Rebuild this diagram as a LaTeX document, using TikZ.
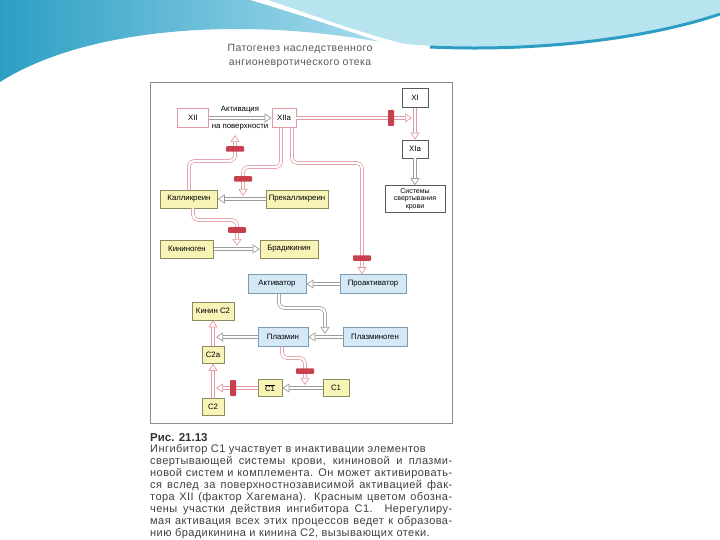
\documentclass[tikz,border=0pt]{standalone}
\usepackage{fontspec}
\setmainfont{Liberation Sans}
\newfontfamily\capfont[LetterSpace=4]{Liberation Sans}
\usepackage{xcolor}
\usetikzlibrary{arrows.meta, calc}
\definecolor{pinkln}{HTML}{E39AA2}
\definecolor{greyln}{HTML}{9C9C9C}
\definecolor{redbar}{HTML}{C8404E}
\definecolor{yelfill}{HTML}{F8F4B8}
\definecolor{yeldraw}{HTML}{8C8A5C}
\definecolor{blufill}{HTML}{D4E9F5}
\definecolor{bludraw}{HTML}{7D9BAE}
\definecolor{teal1}{HTML}{2C9EC4}
\definecolor{teal2}{HTML}{A6DCEC}
\definecolor{sky}{HTML}{B8E4EF}

\begin{document}
\begin{tikzpicture}[x=1pt, y=-1pt,
  every node/.style={font=\fontsize{7.8}{8.5}\selectfont, inner sep=1pt},
  fac/.style={draw=#1, fill=white, line width=0.6pt, minimum height=19pt},
  yel/.style={draw=yeldraw, fill=yelfill, line width=0.6pt, minimum height=18pt},
  blu/.style={draw=bludraw, fill=blufill, line width=0.6pt, minimum height=19pt},
  conn/.style={draw=#1, line width=0.7pt, double=white, double distance=2.2pt,
               rounded corners=5pt, -{Triangle[open, length=7pt, width=9pt, line width=0.7pt]}},
  inhib/.style={fill=redbar, minimum width=18pt, minimum height=5.5pt, inner sep=0pt, rounded corners=0.8pt},
  vinhib/.style={inhib, minimum width=6pt, minimum height=16pt}
]
  \useasboundingbox (0,0) rectangle (720,540);
  \fill[white] (0,0) rectangle (720,540);
  % slide header waves
  \shade[left color=teal1, right color=teal2] (0,0) -- (250,0) .. controls (300,15) and (340,28) .. (380,42)
    .. controls (250,18) and (90,25) .. (0,82) -- cycle;
  \fill[sky] (268,0) -- (720,0) -- (720,12) .. controls (640,45) and (500,52) .. (405,44)
    .. controls (350,30) and (305,12) .. (268,0) -- cycle;
  \draw[teal1, line width=3pt] (430,47) .. controls (540,52) and (650,38) .. (720,14);

  \node[font=\capfont\fontsize{10.5}{14}\selectfont, text=black!65, align=center] (title) at (300,56)
    {Патогенез наследственного\\ангионевротического отека};
  \draw[black!45, line width=0.8pt] (150,82) rectangle (452,423);

  % factors
  \node[fac=pinkln, minimum width=31pt] (xii) at (193,118) {XII};
  \node[fac=pinkln, minimum width=24pt] (xiia) at (284,118) {XIIa};
  \node[fac=black!65, minimum width=26pt] (xi) at (415,98) {XI};
  \node[fac=black!65, minimum width=26pt, minimum height=18pt] (xia) at (415,149) {XIa};
  \node[fac=black!65, minimum width=60pt, minimum height=27pt, align=center,
        font=\fontsize{7}{7.5}\selectfont] (blood) at (415,199) {Системы\\свертывания\\крови};
  \node (lbl1) at (240,110) {Активация};
  \node (lbl2) at (240,127) {на поверхности};

  % kinin system
  \node[yel, minimum width=57pt] (kal) at (189,199) {Калликреин};
  \node[yel, minimum width=62pt] (prekal) at (297,199) {Прекалликреин};
  \node[yel, minimum width=53pt] (kin) at (187,249) {Кининоген};
  \node[yel, minimum width=58pt] (brad) at (289,249) {Брадикинин};

  % fibrinolysis
  \node[blu, minimum width=58pt] (act) at (277,284) {Активатор};
  \node[blu, minimum width=66pt] (proact) at (373,284) {Проактиватор};
  \node[blu, minimum width=50pt] (plm) at (283,337) {Плазмин};
  \node[blu, minimum width=64pt] (plg) at (375,337) {Плазминоген};

  % complement
  \node[yel, minimum width=42pt] (kc2) at (213,311) {Кинин C2};
  \node[yel, minimum width=22pt, minimum height=17pt] (c2a) at (213,355) {C2a};
  \node[yel, minimum width=24pt, minimum height=17pt] (c1act) at (270,388) {$\overline{\mbox{C1}}$};
  \node[yel, minimum width=26pt, minimum height=17pt] (c1) at (336,388) {C1};
  \node[yel, minimum width=22pt, minimum height=17pt] (c2) at (213,407) {C2};

  % arrow ends
  \coordinate (xend) at (412,118);
  \coordinate (fbtip) at (235,135);
  \coordinate (pktip) at (243,196);
  \coordinate (kntip) at (237,246);
  \coordinate (pltip) at (325,334);
  \coordinate (c2tip) at (216,337);
  \coordinate (c1tip) at (216,388);
  \coordinate (cptip) at (305,385);

  \draw[conn=greyln] (xii) -- (xiia);
  \draw[conn=pinkln] (xiia) -- (xend);
  \draw[conn=pinkln] (xi) -- (xia);
  \draw[conn=greyln] (xia) -- (blood);
  \draw[conn=pinkln] (kal.north) |- (235,161) -- (fbtip);
  \draw[conn=pinkln] ([xshift=-3pt]xiia.south) |- (243,167) -- (pktip);
  \draw[conn=pinkln] ([xshift=8pt]xiia.south) |- (362,163) -- ([xshift=-11pt]proact.north);
  \draw[conn=greyln] (prekal) -- (kal);
  \draw[conn=pinkln] ([xshift=4pt]kal.south) |- (237,220) -- (kntip);
  \draw[conn=greyln] (kin) -- (brad);
  \draw[conn=greyln] (proact) -- (act);
  \draw[conn=greyln] ([xshift=2pt]act.south) |- (325,308) -- (pltip);
  \draw[conn=greyln] (plg) -- (plm);
  \draw[conn=greyln] (plm) -- (c2tip);
  \draw[conn=pinkln] (c2a) -- (kc2);
  \draw[conn=pinkln] (c2) -- (c2a);
  \draw[conn=greyln] (c1) -- (c1act);
  \draw[conn=pinkln] (c1act) -- (c1tip);
  \draw[conn=pinkln] ([xshift=-1pt]plm.south) |- (305,358) -- (cptip);

  % C1 inhibitor sites
  \node[inhib] (bar1) at (235,149) {};
  \node[inhib] (bar2) at (243,179) {};
  \node[vinhib] (bar3) at (391,118) {};
  \node[inhib] (bar4) at (362,258) {};
  \node[inhib] (bar5) at (237,230) {};
  \node[inhib] (bar6) at (305,371) {};
  \node[vinhib] (bar7) at (233,388) {};

  % caption
  \node[anchor=base west, font=\fontsize{11.5}{13}\selectfont\bfseries, text=black!80, inner sep=0pt] (fig) at (150,441) {Рис. 21.13};
  \node[anchor=north west, align=left, font=\capfont\fontsize{11}{12}\selectfont, text=black!75, inner sep=0pt] (cap) at (150,444)
    {Ингибитор C1 участвует в инактивации элементов\\
     \makebox[302pt][s]{свертывающей системы крови, кининовой и плазми-}\\
     \makebox[302pt][s]{новой систем и комплемента. Он может активировать-}\\
     \makebox[302pt][s]{ся вслед за поверхностнозависимой активацией фак-}\\
     \makebox[302pt][s]{тора XII (фактор Хагемана). Красным цветом обозна-}\\
     \makebox[302pt][s]{чены участки действия ингибитора C1. Нерегулиру-}\\
     \makebox[302pt][s]{мая активация всех этих процессов ведет к образова-}\\
     нию брадикинина и кинина C2, вызывающих отеки.};
\end{tikzpicture}
\end{document}
